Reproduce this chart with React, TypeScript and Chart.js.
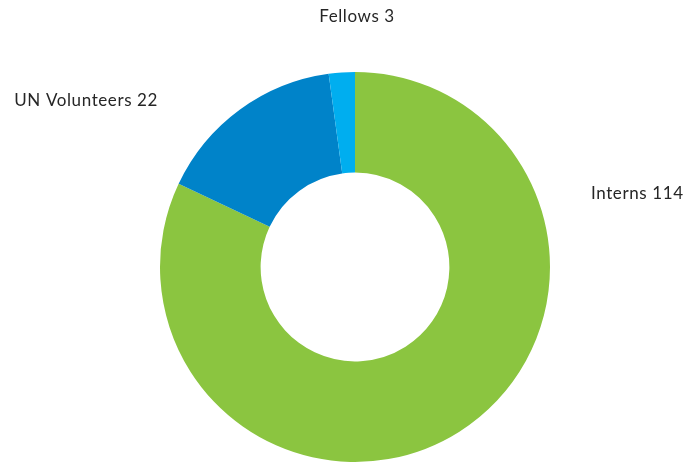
import React, { useEffect, useRef } from "react";
import { Chart, registerables } from "chart.js";

Chart.register(...registerables);

const categories = ["Interns", "UN Volunteers", "Fellows"];
const values = [114, 22, 3];
const colors = ["#8BC540", "#0083C9", "#00AEEF"];
// label offsets from the doughnut centre (dx, dy) and text alignment
const labelOffsets: [number, number, CanvasTextAlign][] = [
  [236, -74, "left"],
  [-197, -167, "right"],
  [2, -251, "center"],
];

const labelPlugin = {
  id: "outerLabels",
  afterDraw(chart: any) {
    const ctx = chart.ctx;
    const meta = chart.getDatasetMeta(0);
    ctx.save();
    ctx.font = "17px Lato, 'Open Sans', sans-serif";
    (ctx as any).letterSpacing = "0.6px";
    ctx.fillStyle = "#262626";
    ctx.textBaseline = "middle";
    meta.data.forEach((arc: any, i: number) => {
      const [dx, dy, align] = labelOffsets[i];
      ctx.textAlign = align;
      ctx.fillText(`${categories[i]} ${values[i]}`, arc.x + dx, arc.y + dy + 1);
    });
    ctx.restore();
  },
};

export default function App() {
  const ref = useRef<HTMLCanvasElement>(null);
  useEffect(() => {
    document.body.style.margin = "0";
    const chart = new Chart(ref.current!, {
      type: "doughnut",
      data: {
        labels: categories,
        datasets: [
          {
            data: values,
            backgroundColor: colors,
            borderWidth: 0,
          },
        ],
      },
      options: {
        responsive: false,
        animation: false,
        cutout: "48.4%",
        layout: { padding: { top: 72, bottom: 2, left: 24, right: 0 } },
        plugins: {
          legend: { display: false },
          tooltip: { enabled: false },
        },
      },
      plugins: [labelPlugin],
    });
    return () => chart.destroy();
  }, []);
  return (
    <div style={{ width: 686, height: 464, background: "#fff" }}>
      <canvas ref={ref} width={686} height={464} />
    </div>
  );
}
